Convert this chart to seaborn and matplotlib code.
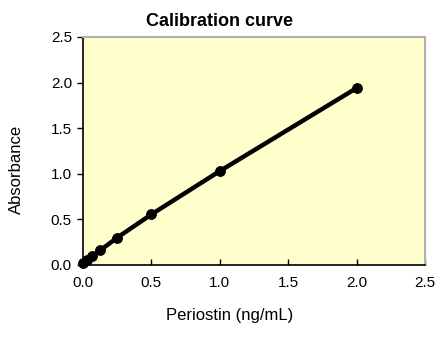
import matplotlib
matplotlib.use("Agg")
import matplotlib.pyplot as plt
import seaborn as sns
import pandas as pd

conc = [0.0, 0.03125, 0.0625, 0.125, 0.25, 0.5, 1.0, 2.0]
absorbance = [0.02, 0.05, 0.095, 0.16, 0.30, 0.555, 1.03, 1.94]
xticks = [0.0, 0.5, 1.0, 1.5, 2.0, 2.5]
yticks = [0.0, 0.5, 1.0, 1.5, 2.0, 2.5]

df = pd.DataFrame({"x": conc, "y": absorbance})

sns.set_theme(style="white")
plt.rcParams['font.family'] = ['Liberation Sans', 'DejaVu Sans']

fig = plt.figure(figsize=(4.39, 3.37), dpi=100)
ax = fig.add_axes([83/439, 72/337, 342/439, 228/337])
ax.set_facecolor("#FFFFCC")

sns.lineplot(data=df, x="x", y="y", ax=ax, color="black", linewidth=3.2,
             marker="o", markersize=7, markeredgecolor="black", clip_on=False)

ax.set_xlim(0, 2.5)
ax.set_ylim(0, 2.5)
ax.set_xticks(xticks)
ax.set_yticks(yticks)
ax.set_xticklabels([f"{t:.1f}" for t in xticks], fontsize=11)
ax.set_yticklabels([f"{t:.1f}" for t in yticks], fontsize=11)
ax.tick_params(axis="x", direction="in", length=4, width=1, colors="black", pad=8)
ax.tick_params(axis="y", direction="out", length=4, width=1, colors="black", pad=4)
ax.tick_params(axis="both", bottom=True, left=True, labelcolor="black")

for side in ["left", "bottom"]:
    ax.spines[side].set_color("black")
    ax.spines[side].set_linewidth(1.2)
for side in ["right", "top"]:
    ax.spines[side].set_visible(True)
    ax.spines[side].set_color("#B0B0B0")
    ax.spines[side].set_linewidth(1.5)

ax.set_xlabel("Periostin (ng/mL)", fontsize=12, labelpad=14, color="black")
ax.xaxis.set_label_coords(0.43, -0.19)
ax.set_ylabel("Absorbance", fontsize=12, labelpad=22, color="black")
ax.yaxis.set_label_coords(-0.172, 0.42)
ax.set_title("Calibration curve", fontsize=13, fontweight="bold", pad=8,
             color="black", x=0.40)

fig.savefig("out.png", dpi=100, facecolor="white")
